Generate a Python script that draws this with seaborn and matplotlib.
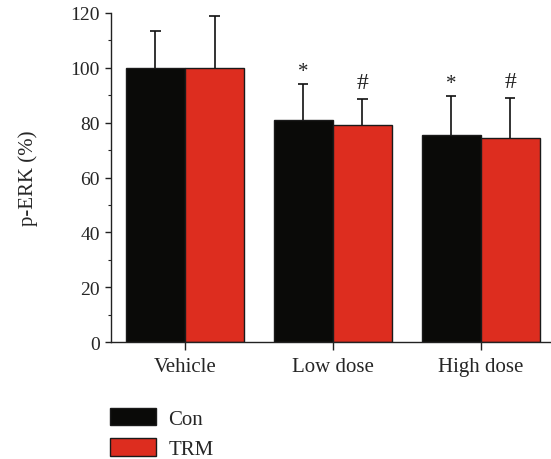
import numpy as np
import pandas as pd
import matplotlib
matplotlib.use("Agg")
import matplotlib.pyplot as plt
import seaborn as sns
from matplotlib.ticker import MultipleLocator

groups = ["Vehicle", "Low dose", "High dose"]
series = ["Con", "TRM"]
con_vals = [100.0, 81.0, 75.5]
trm_vals = [99.9, 79.1, 74.4]
con_err = [13.5, 13.0, 14.3]
trm_err = [19.0, 9.6, 14.7]
con_marks = ["", "*", "*"]
trm_marks = ["", "#", "#"]

colors = {"Con": "#0a0a08", "TRM": "#dd2d1f"}

df = pd.DataFrame({
    "group": groups * 2,
    "series": ["Con"] * 3 + ["TRM"] * 3,
    "value": con_vals + trm_vals,
})

sns.set_theme(style="ticks")
plt.rcParams["font.family"] = ["Liberation Serif", "DejaVu Serif"]
plt.rcParams["font.size"] = 14

fig = plt.figure(figsize=(5.51, 4.6), dpi=100)
ax = fig.add_axes([0.2015, 0.2543, 0.797, 0.7153])

sns.barplot(data=df, x="group", y="value", hue="series", order=groups,
            hue_order=series, palette=colors, errorbar=None, width=0.8,
            saturation=1, edgecolor="#1a1a1a", linewidth=1.0, ax=ax, legend=True)

errs = {"Con": con_err, "TRM": trm_err}
marks = {"Con": con_marks, "TRM": trm_marks}
cap = 0.035
for cont, s in zip(ax.containers, series):
    xs = np.array([p.get_x() + p.get_width() / 2 for p in cont.patches])
    hs = np.array([p.get_height() for p in cont.patches])
    e = np.array(errs[s])
    ax.vlines(xs, hs, hs + e, color="#111111", linewidth=1.2, zorder=3)
    ax.hlines(hs + e, xs - cap, xs + cap, color="#111111", linewidth=1.2, zorder=3)
    for x, h, ee, m in zip(xs, hs, e, marks[s]):
        if m == "*":
            ax.text(x, h + ee + 1.2, m, ha="center", va="bottom",
                    fontsize=15, color="#222222")
        elif m:
            ax.text(x, h + ee + 2.2, m, ha="center", va="bottom",
                    fontsize=17, color="#222222")

ax.set_ylim(0, 120)
ax.set_xlim(-0.5, 2.47)
ax.yaxis.set_major_locator(MultipleLocator(20))
ax.yaxis.set_minor_locator(MultipleLocator(10))
ax.tick_params(axis="y", which="major", length=4.5, width=1, labelsize=14, color="#222222")
ax.tick_params(axis="y", which="minor", length=2.5, width=0.8, color="#222222")
ax.tick_params(axis="x", which="major", length=6, width=1, labelsize=15, pad=5, color="#222222")
ax.set_xlabel("")
ax.set_ylabel("p-ERK (%)", fontsize=15, labelpad=23)
sns.despine(ax=ax)
for sp in ["left", "bottom"]:
    ax.spines[sp].set_linewidth(1.0)
    ax.spines[sp].set_color("#222222")

handles, labels = ax.get_legend_handles_labels()
ax.get_legend().remove()
fig.legend(handles, labels, loc="upper left",
           bbox_to_anchor=(110 / 551, 1 - 409 / 460), frameon=False,
           borderpad=0, borderaxespad=0, handlelength=2.2, handleheight=0.9,
           labelspacing=0.45, handletextpad=0.6, fontsize=15)

fig.savefig("out.png", dpi=100)
